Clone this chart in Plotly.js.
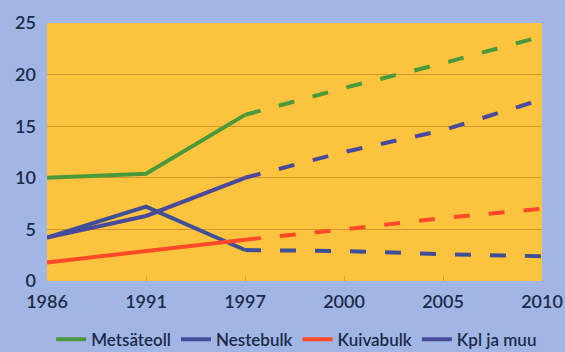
<!DOCTYPE html>
<html>
<head>
<meta charset="utf-8">
<script src="https://cdn.plot.ly/plotly-3.0.1.min.js"></script>
<style>
  html, body { margin: 0; padding: 0; background: #a2b6e6; }
  #chart { width: 565px; height: 352px; }
</style>
</head>
<body>
<div id="chart"></div>
<script>
// Years on the horizontal axis (evenly spaced categories)
const years = ['1986', '1991', '1997', '2000', '2005', '2010'];

// Actual values 1986–1997 and forecast values 1997–2010 (million tonnes)
const metsaActual   = [10.0, 10.4, 16.1];
const metsaForecast = [16.1, 18.7, 21.1, 23.7];

const nesteActual   = [4.2, 7.2, 3.0];
const nesteForecast = [3.0, 2.9, 2.6, 2.4];

const kuivaActual   = [1.8, 2.9, 4.0];
const kuivaForecast = [4.0, 5.0, 6.1, 7.0];

const kplActual     = [4.2, 6.3, 10.0];
const kplForecast   = [10.0, 12.5, 14.6, 17.6];

const seriesNames = ['Metsäteoll', 'Nestebulk', 'Kuivabulk', 'Kpl ja muu'];
const seriesColors = ['#4a9a3c', '#3e4f98', '#ff4a28', '#4a4a9c'];

const actualYears = years.slice(0, 3);
const forecastYears = years.slice(2);

const actualSets = [metsaActual, nesteActual, kuivaActual, kplActual];
const forecastSets = [metsaForecast, nesteForecast, kuivaForecast, kplForecast];

const traces = [];
seriesNames.forEach((name, i) => {
  traces.push({
    x: actualYears, y: actualSets[i], type: 'scatter', mode: 'lines',
    name: name, legendgroup: name,
    line: { color: seriesColors[i], width: 4 }
  });
});
seriesNames.forEach((name, i) => {
  traces.push({
    x: forecastYears, y: forecastSets[i], type: 'scatter', mode: 'lines',
    name: name, legendgroup: name, showlegend: false,
    line: { color: seriesColors[i], width: 4, dash: '16px,19px' }
  });
});

const fontFamily = 'Lato, "DejaVu Sans", sans-serif';
const tickFont = { family: fontFamily, size: 18, color: '#1c2a48', weight: 600 };

const layout = {
  width: 565, height: 352,
  paper_bgcolor: '#a2b6e6',
  plot_bgcolor: '#fcc43e',
  margin: { l: 47, r: 23, t: 23, b: 71, autoexpand: false },
  showlegend: true,
  legend: {
    orientation: 'h', xref: 'container', yref: 'container',
    x: 0.525, xanchor: 'center', y: 0.035, yanchor: 'middle',
    font: { family: fontFamily, size: 17, color: '#1c2a48', weight: 600 },
    bgcolor: 'rgba(0,0,0,0)', itemwidth: 30, tracegroupgap: 0
  },
  xaxis: {
    type: 'category', categoryorder: 'array', categoryarray: years,
    range: [0, 5], showgrid: false, zeroline: false, showline: false,
    ticks: 'inside', ticklen: 5, tickcolor: '#d9a040', tickwidth: 1,
    ticklabelstandoff: 8,
    tickfont: tickFont, fixedrange: true
  },
  yaxis: {
    range: [0, 25], dtick: 5, showgrid: true, gridcolor: '#d6962e', gridwidth: 1,
    zeroline: false, showline: false, ticks: '', ticklabelstandoff: 10,
    tickfont: tickFont, fixedrange: true
  }
};

Plotly.newPlot('chart', traces, layout, { staticPlot: true, displayModeBar: false });
</script>
</body>
</html>
